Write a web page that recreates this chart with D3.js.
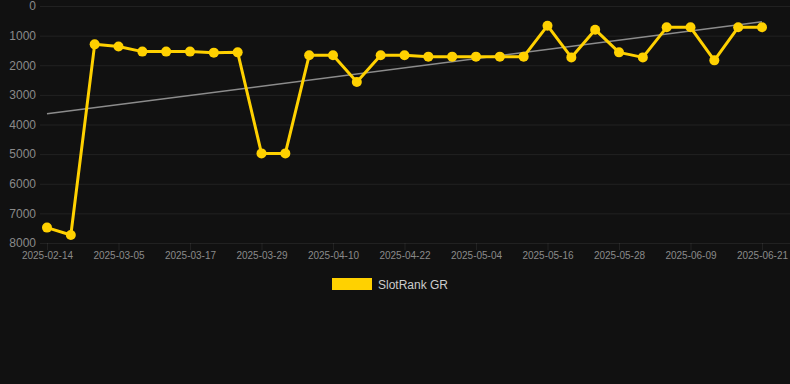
<!DOCTYPE html>
<html>
<head>
<meta charset="utf-8">
<script src="https://cdn.jsdelivr.net/npm/d3@7/dist/d3.min.js"></script>
<style>
  html, body { margin: 0; padding: 0; background: #111111; }
  svg { display: block; font-family: "Liberation Sans", Arial, sans-serif; }
</style>
</head>
<body>
<div id="chart"></div>
<script>
// dates for every point (only every third one gets a label)
const dates = [
  '2025-02-14', '2025-02-21', '2025-02-28', '2025-03-05', '2025-03-09', '2025-03-13',
  '2025-03-17', '2025-03-21', '2025-03-25', '2025-03-29', '2025-04-02', '2025-04-06',
  '2025-04-10', '2025-04-14', '2025-04-18', '2025-04-22', '2025-04-26', '2025-04-30',
  '2025-05-04', '2025-05-08', '2025-05-12', '2025-05-16', '2025-05-20', '2025-05-24',
  '2025-05-28', '2025-06-01', '2025-06-05', '2025-06-09', '2025-06-13', '2025-06-17',
  '2025-06-21'
];
const rankValues = [
  7480, 7730, 1295, 1370, 1540, 1540, 1540, 1575, 1565, 4975, 4975, 1665,
  1665, 2565, 1665, 1665, 1710, 1710, 1710, 1710, 1710, 665, 1735, 800,
  1565, 1735, 720, 720, 1835, 720, 720
];
const trendValues = [3640, 530]; // trend line at first and last date
const yTicks = [0, 1000, 2000, 3000, 4000, 5000, 6000, 7000, 8000];
const seriesName = 'SlotRank GR';

const W = 790, H = 384;
const plot = {left: 47, right: 762, top: 6, bottom: 243};
const gold = '#FFD100';

const svg = d3.select('#chart').append('svg')
    .attr('width', W)
    .attr('height', H);

svg.append('rect').attr('width', W).attr('height', H).attr('fill', '#111111');

const x = d3.scalePoint().domain(dates).range([plot.left, plot.right]);
const y = d3.scaleLinear().domain([0, 8000]).range([plot.top, plot.bottom]);

// horizontal grid + y labels
const yAxis = d3.axisLeft(y)
    .tickValues(yTicks)
    .tickSize(-(W - plot.left))
    .tickPadding(11)
    .tickFormat(d3.format('d'));

const gy = svg.append('g')
    .attr('transform', 'translate(' + plot.left + ',0)')
    .call(yAxis);
gy.select('.domain').remove();
gy.selectAll('.tick line')
    .attr('x1', -7)
    .attr('stroke', 'rgba(255,255,255,0.07)');
gy.selectAll('.tick text')
    .attr('fill', '#8a8a8a')
    .attr('font-size', 12);

// vertical grid + x labels (every third date)
const labelDates = dates.filter((d, i) => i % 3 === 0);
const xAxis = d3.axisBottom(x)
    .tickValues(labelDates)
    .tickSize(-(plot.bottom - plot.top))
    .tickPadding(9);

const gx = svg.append('g')
    .attr('transform', 'translate(0,' + plot.bottom + ')')
    .call(xAxis);
gx.select('.domain').remove();
gx.selectAll('.tick line')
    .attr('y2', 7)
    .attr('stroke', 'rgba(255,255,255,0.07)');
gx.selectAll('.tick text')
    .attr('fill', '#8a8a8a')
    .attr('font-size', 10);

// trend line
svg.append('line')
    .attr('x1', x(dates[0]))
    .attr('x2', x(dates[dates.length - 1]))
    .attr('y1', y(trendValues[0]))
    .attr('y2', y(trendValues[1]))
    .attr('stroke', '#8c8c8c')
    .attr('stroke-width', 1.5);

// main series
const data = dates.map((d, i) => ({date: d, value: rankValues[i]}));

const line = d3.line()
    .x(d => x(d.date))
    .y(d => y(d.value));

svg.append('path')
    .datum(data)
    .attr('fill', 'none')
    .attr('stroke', gold)
    .attr('stroke-width', 3)
    .attr('stroke-linejoin', 'round')
    .attr('d', line);

svg.append('g')
    .selectAll('circle')
    .data(data)
    .join('circle')
    .attr('cx', d => x(d.date))
    .attr('cy', d => y(d.value))
    .attr('r', 5)
    .attr('fill', gold);

// legend
const legend = svg.append('g').attr('transform', 'translate(332,278)');
legend.append('rect')
    .attr('width', 40)
    .attr('height', 12)
    .attr('fill', gold);
legend.append('text')
    .attr('x', 46)
    .attr('y', 10.5)
    .attr('fill', '#cccccc')
    .attr('font-size', 12)
    .text(seriesName);
</script>
</body>
</html>
